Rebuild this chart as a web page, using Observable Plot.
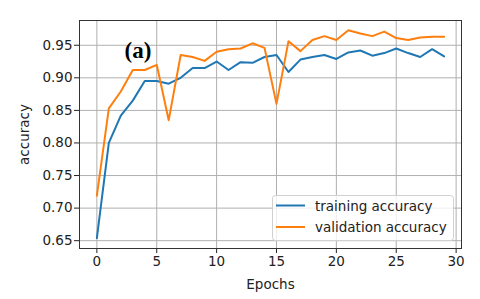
<!DOCTYPE html>
<html>
<head>
<meta charset="utf-8">
<script src="https://cdn.jsdelivr.net/npm/d3@7"></script>
<script src="https://cdn.jsdelivr.net/npm/@observablehq/plot@0.6"></script>
<style>
  body { margin: 0; background: #fff; }
  #chart { width: 480px; height: 299px; }
</style>
</head>
<body>
<div id="chart"></div>
<script>
const epochs = d3.range(0, 30);
const trainingAccuracy = [0.654, 0.800, 0.842, 0.865, 0.895, 0.895, 0.891, 0.900, 0.915, 0.915,
  0.925, 0.912, 0.924, 0.923, 0.932, 0.935, 0.909, 0.928, 0.932, 0.935,
  0.929, 0.939, 0.942, 0.934, 0.938, 0.945, 0.938, 0.932, 0.944, 0.933];
const validationAccuracy = [0.719, 0.853, 0.879, 0.912, 0.912, 0.920, 0.835, 0.935, 0.932, 0.926,
  0.940, 0.944, 0.945, 0.953, 0.946, 0.860, 0.956, 0.941, 0.958, 0.964,
  0.958, 0.973, 0.968, 0.964, 0.971, 0.961, 0.958, 0.962, 0.963, 0.963];
const seriesNames = ["training accuracy", "validation accuracy"];
const seriesColors = ["#1f77b4", "#ff7f0e"];
const xTicks = [0, 5, 10, 15, 20, 25, 30];
const yTicks = [0.65, 0.70, 0.75, 0.80, 0.85, 0.90, 0.95];

const rows = [];
epochs.forEach((e, i) => {
  rows.push({epoch: e, acc: trainingAccuracy[i], series: seriesNames[0]});
  rows.push({epoch: e, acc: validationAccuracy[i], series: seriesNames[1]});
});

const font = "DejaVu Sans, sans-serif";
const fs = 13.5;

const plot = Plot.plot({
  width: 480,
  height: 299,
  marginLeft: 79,
  marginRight: 19,
  marginTop: 20,
  marginBottom: 51,
  style: {fontFamily: font, fontSize: fs + "px", color: "#222", background: "#fff"},
  x: {domain: [-1.45, 30.45]},
  y: {domain: [0.638, 0.988]},
  color: {domain: seriesNames, range: seriesColors},
  marks: [
    Plot.gridX(xTicks, {stroke: "#b0b0b0", strokeOpacity: 1, strokeWidth: 1}),
    Plot.gridY(yTicks, {stroke: "#b0b0b0", strokeOpacity: 1, strokeWidth: 1}),
    Plot.axisX(xTicks, {tickSize: 5, tickPadding: 3, fontSize: fs, tickFormat: d => d,
      label: "Epochs", labelAnchor: "center", labelArrow: "none", labelOffset: 40}),
    Plot.axisY(yTicks, {tickSize: 5, tickPadding: 2, fontSize: fs, tickFormat: d => d.toFixed(2),
      label: "accuracy", labelAnchor: "center", labelArrow: "none", labelOffset: 60}),
    Plot.line(rows, {x: "epoch", y: "acc", z: "series", stroke: "series", strokeWidth: 2}),
    Plot.frame({stroke: "#333", strokeWidth: 1})
  ]
});

const svg = d3.select(plot);
// "(a)" annotation
svg.append("text")
  .attr("x", 138).attr("y", 58)
  .attr("text-anchor", "middle")
  .attr("font-family", "Liberation Serif, Times New Roman, serif")
  .attr("font-weight", "bold")
  .attr("font-size", 23)
  .attr("fill", "#000")
  .text("(a)");

// legend
const lg = svg.append("g");
lg.append("rect")
  .attr("x", 272.5).attr("y", 195.5).attr("width", 181).attr("height", 45)
  .attr("rx", 3).attr("fill", "#fff").attr("fill-opacity", 0.8)
  .attr("stroke", "#d0d0d0").attr("stroke-width", 1);
seriesNames.forEach((name, i) => {
  const yy = 205.5 + i * 21.5;
  lg.append("line").attr("x1", 276).attr("x2", 305).attr("y1", yy).attr("y2", yy)
    .attr("stroke", seriesColors[i]).attr("stroke-width", 2);
  lg.append("text").attr("x", 315).attr("y", yy + 5)
    .attr("text-anchor", "start")
    .attr("font-family", font).attr("font-size", fs).attr("fill", "#222")
    .text(name);
});

document.getElementById("chart").appendChild(plot);
</script>
</body>
</html>
